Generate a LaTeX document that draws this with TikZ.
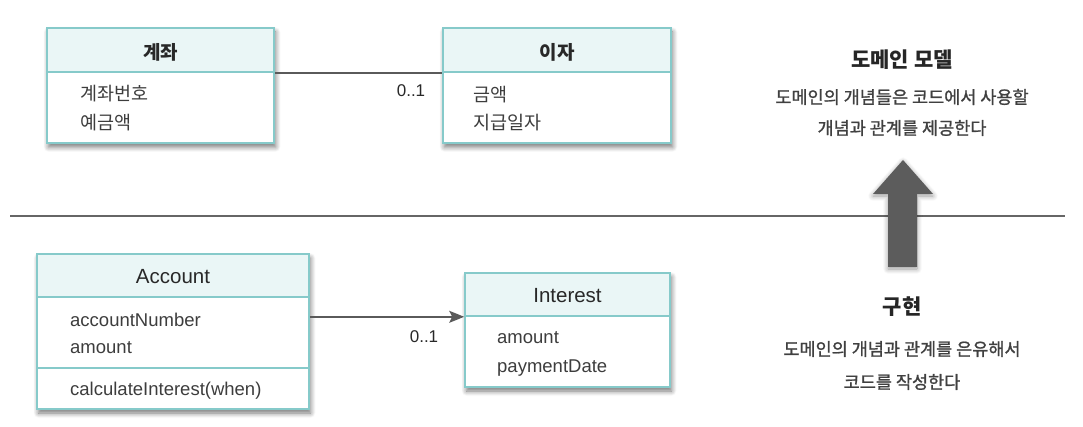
\documentclass[tikz,border=0pt]{standalone}
\usepackage{fontspec}
\setmainfont{Liberation Sans}
\newfontfamily\kr{Noto Sans CJK KR}
\newfontfamily\krm[FakeBold=1.2]{Noto Sans CJK KR}
\usetikzlibrary{arrows.meta,shadows.blur}
\definecolor{bordc}{RGB}{134,202,202}
\definecolor{headc}{RGB}{234,246,246}
\definecolor{txtc}{RGB}{40,40,40}
\definecolor{linec}{RGB}{90,90,90}
\definecolor{arrc}{RGB}{92,92,92}
\tikzset{
  umlbox/.style={draw=bordc, line width=1.6pt, fill=white, inner sep=0pt,
    blur shadow={shadow xshift=1.5pt, shadow yshift=-4pt, shadow blur steps=8, shadow blur radius=5pt, shadow opacity=55}},
  umlhead/.style={draw=bordc, line width=1.6pt, fill=headc, inner sep=0pt},
  divline/.style={draw=bordc, line width=1.6pt},
  ktitle/.style={font=\kr\bfseries\fontsize{19}{23}\selectfont, text=txtc},
  ktext/.style={font=\kr\fontsize{18.5}{22}\selectfont, text=txtc!90, anchor=west, inner sep=0pt},
  etitle/.style={font=\fontsize{20.5}{24}\selectfont, text=txtc},
  etext/.style={font=\fontsize{18.5}{22}\selectfont, text=txtc!90, anchor=west, inner sep=0pt},
  mult/.style={font=\fontsize{17}{20}\selectfont, text=txtc, inner sep=0pt},
  conn/.style={draw=linec, line width=1.5pt},
  rhead/.style={font=\kr\bfseries\fontsize{21}{25}\selectfont, text=black!85},
  rtext/.style={font=\krm\fontsize{17.5}{21}\selectfont, text=black!75},
}
\begin{document}
\begin{tikzpicture}[x=1pt,y=-1pt]
\useasboundingbox (0,0) rectangle (1083,427);
% ---------- domain model: 계좌 ----------
\node[umlbox, minimum width=227pt, minimum height=115pt] (gy) at (160.5,85.5) {};
\node[umlhead, minimum width=227pt, minimum height=44pt] (gyh) at (160.5,50) {};
\node[ktitle] (gyt) at (160.5,52) {계좌};
\node[ktext] (gy1) at (80,94) {계좌번호};
\node[ktext] (gy2) at (80,123) {예금액};
% ---------- 이자 ----------
\node[umlbox, minimum width=228pt, minimum height=115pt] (iz) at (557,85.5) {};
\node[umlhead, minimum width=228pt, minimum height=44pt] (izh) at (557,50) {};
\node[ktitle] (izt) at (557,52) {이자};
\node[ktext] (iz1) at (473,95) {금액};
\node[ktext] (iz2) at (473,123) {지급일자};
% association
\draw[conn] (gyh.south east) -- (izh.south west);
\node[mult] (m1) at (411,91) {0..1};
% ---------- separator ----------
\coordinate (sepL) at (10,216);
\coordinate (sepR) at (1065,216);
\draw[draw=black!60, line width=2pt] (sepL) -- (sepR);
% ---------- implementation: Account ----------
\node[umlbox, minimum width=272pt, minimum height=155pt] (ac) at (173,331.5) {};
\node[umlhead, minimum width=272pt, minimum height=43pt] (ach) at (173,275.5) {};
\draw[divline] (37,368) -- (309,368);
\node[etitle] (act) at (173,277) {Account};
\node[etext] (ac1) at (70,320) {accountNumber};
\node[etext] (ac2) at (70,348) {amount};
\node[etext] (ac3) at (70,391) {calculateInterest(when)};
% ---------- Interest ----------
\node[umlbox, minimum width=205pt, minimum height=114pt] (in) at (567.5,330) {};
\node[umlhead, minimum width=205pt, minimum height=43pt] (inh) at (567.5,294.5) {};
\node[etitle] (int) at (567.5,296) {Interest};
\node[etext] (in1) at (497,338) {amount};
\node[etext] (in2) at (497,368) {paymentDate};
% navigable association
\draw[conn, -{Stealth[length=15pt,width=12pt,inset=3pt]}] (inh.south west -| ac.east) -- (inh.south west);
\node[mult] (m2) at (424,337) {0..1};
% ---------- big arrow ----------
\fill[arrc, blur shadow={shadow xshift=0pt, shadow yshift=-2pt, shadow blur steps=8, shadow blur radius=5pt, shadow opacity=40}]
  (903,160) -- (933,194) -- (917,194) -- (917,267) -- (888,267) -- (888,194) -- (873,194) -- cycle;
% ---------- right texts ----------
\node[rhead] (dm) at (902,60) {도메인 모델};
\node[rtext] (dm1) at (902,97) {도메인의 개념들은 코드에서 사용할};
\node[rtext] (dm2) at (902,128) {개념과 관계를 제공한다};
\node[rhead] (im) at (902,307) {구현};
\node[rtext] (im1) at (902,349) {도메인의 개념과 관계를 은유해서};
\node[rtext] (im2) at (902,382) {코드를 작성한다};
\end{tikzpicture}
\end{document}
